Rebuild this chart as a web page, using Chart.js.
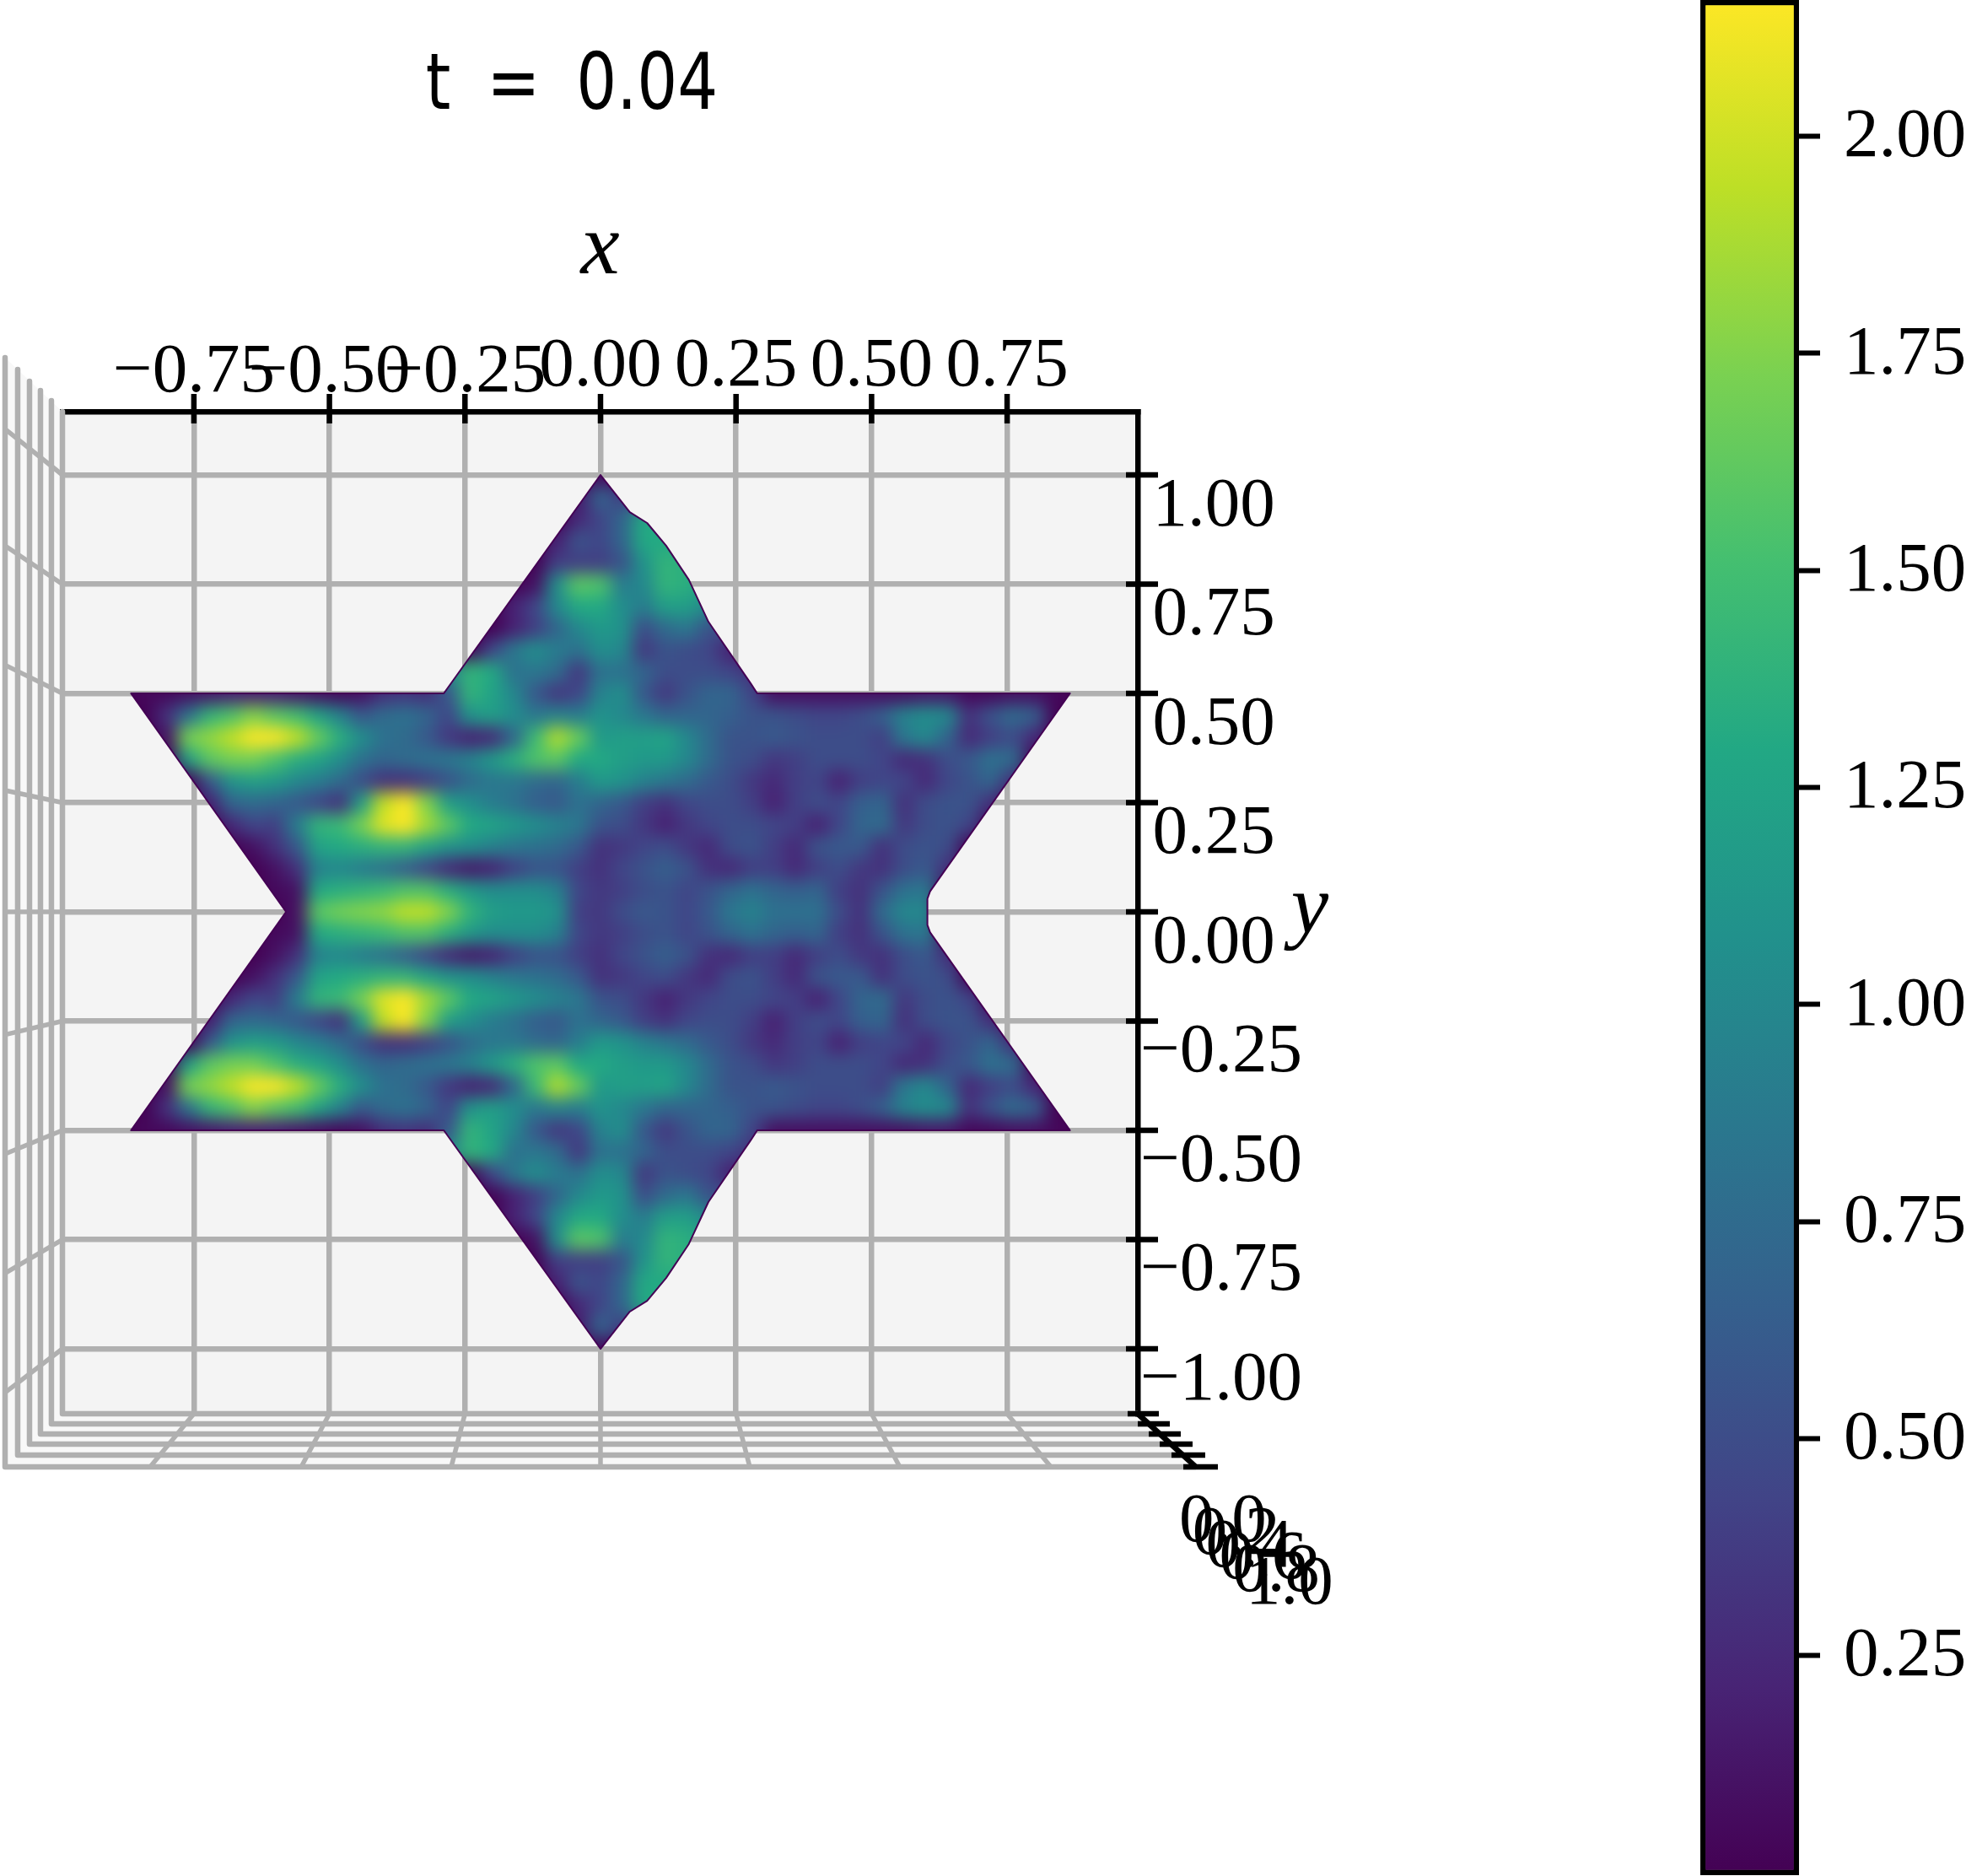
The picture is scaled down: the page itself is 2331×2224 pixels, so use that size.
<!DOCTYPE html>
<html>
<head>
<meta charset="utf-8">
<title>t = 0.04</title>
<script src="https://cdn.jsdelivr.net/npm/chart.js@4"></script>
<style>
  html, body { margin: 0; padding: 0; background: #fff; }
  body { width: 2331px; height: 2224px; position: relative; overflow: hidden; }
  canvas { position: absolute; top: 0; }
  #main { left: 0; }
  #cbar { left: 2016px; }
</style>
</head>
<body>
<canvas id="main" width="1990" height="2224"></canvas>
<canvas id="cbar" width="315" height="2224"></canvas>
<script>
const xTicks = [-0.75, -0.5, -0.25, 0, 0.25, 0.5, 0.75];
const yTicks = [-1, -0.75, -0.5, -0.25, 0, 0.25, 0.5, 0.75, 1];
const cbarTicks = [0.25, 0.5, 0.75, 1, 1.25, 1.5, 1.75, 2];
const zTickLabels = ['0.0', '0.2', '0.4', '0.6', '0.8', '1.0'];
const cbarRange = [-0.003, 2.157];

// star outline, upper half (lower half is its mirror)
const outlineX = [-0.58, -0.866, -0.289, 0, 0.054, 0.086, 0.121, 0.163, 0.199, 0.277, 0.289, 0.866, 0.608, 0.603, 0.603];
const outlineY = [0, 0.5, 0.5, 1, 0.915, 0.89, 0.838, 0.76, 0.664, 0.523, 0.5, 0.5, 0.047, 0.03, 0];

// surface height, read by eye. Rows go up from y = 0, columns step 0.04 in x from heatStartX
const heatY = [0, 0.05, 0.1, 0.15, 0.2, 0.25, 0.3, 0.35, 0.4, 0.45, 0.5, 0.55, 0.6, 0.65, 0.7, 0.75, 0.8, 0.85, 0.9, 0.95, 1];
const heatStartX = [-0.56, -0.6, -0.64, -0.64, -0.68, -0.72, -0.72, -0.76, -0.8, -0.8, -0.84, -0.28, -0.2, -0.16, -0.16, -0.12, -0.08, -0.08, -0.04, -0.04, -0.04];
const row000 = [.1,1.6,1.7,1.75,1.8,1.95,1.95,1.75,1.4,1.2,1.15,1.15,1.1,.4,.35,.5,.6,.55,.45,.6,.85,.95,.8,.8,.8,.5,.3,.75,1,1];
const row005 = [.05,.1,1.3,1.35,1.4,1.45,1.55,1.55,1.35,1.15,1.05,1.05,1.05,.95,.45,.35,.4,.5,.55,.45,.55,.7,.8,.7,.65,.7,.4,.3,.55,.8,.85];
const row010 = [0,.1,.3,.95,1,.9,.8,.65,.45,.25,.15,.2,.4,.55,.55,.4,.3,.45,.55,.65,.55,.3,.25,.4,.4,.25,.4,.5,.35,.3,.5,.6,.3];
const row015 = [.1,.3,.6,1.25,1.3,1.35,1.4,1.4,1.25,1.1,1.05,.95,.85,.8,.75,.6,.3,.35,.45,.5,.35,.25,.5,.55,.4,.25,.55,.6,.6,.3,.5,.55,.5];
const row020 = [.25,.45,.4,.9,1.4,1.45,1.7,2.05,2.15,1.85,1.6,1.3,1.25,1.15,1.05,.95,.85,.55,.5,.35,.2,.35,.45,.5,.5,.45,.4,.2,.45,.7,.75,.35,.5,.55,.45];
const row025 = [.2,.7,.75,.7,.6,.45,.3,1.2,1.95,2.15,1.75,1.2,1.05,.9,.8,.65,.6,.8,.7,.6,.4,.3,.45,.5,.5,.4,.2,.4,.5,.45,.65,.7,.3,.5,.55,.55,.3];
const row030 = [.6,1.1,1.2,1.15,1,.9,.75,.5,.3,.3,.4,.55,.75,.85,.85,.75,.7,.9,1.15,1.1,.95,.85,.75,.6,.5,.35,.25,.4,.45,.2,.4,.45,.45,.25,.45,.55,.7,.3];
const row035 = [1.2,1.6,1.7,1.7,1.55,1.35,1.25,1.05,.8,.7,.75,.8,.85,.95,1.15,1.35,1.55,1.6,1.3,1.3,1.2,1.15,1.15,1,.75,.55,.5,.35,.4,.5,.5,.5,.45,.25,.3,.5,.6,.8,.75];
const row040 = [.1,1.7,1.8,1.95,2.15,2.15,1.95,1.65,1.35,1.05,.8,.75,.6,.35,.2,.25,.7,1.45,1.9,1.65,1.15,1.2,1.2,1.25,1,.75,.55,.55,.6,.55,.5,.5,.5,.4,.85,1,.7,.25,.4,.5,.25];
const row045 = [.3,.8,1.4,1.55,1.75,1.6,1.5,1.25,.95,.6,.75,.8,.7,.45,1.1,1.2,1.05,.85,.95,.9,1.1,1,.85,.7,.7,.7,.65,.55,.55,.5,.45,.45,.5,.65,.95,1.05,1,.3,.55,.75,.65];
const row050 = [.05,.05,.1,.15,.2,.2,.2,.15,.1,.05,.1,.3,.35,.3,.6,1.4,1.25,1,.6,.35,.45,.95,1.05,.6,.35,.55,.7,.7,.45,.1,.1,.1,.1,.1,.1,.1,.15,.15,.05,.05,.1,.1,.05];
const row055 = [1,1.4,1.3,.8,.85,.75,.35,.8,.8,.7,.5,.5,.5,.45,.3];
const row060 = [.45,.85,1.05,.9,.8,1.05,1,.35,.55,.5,.45,.2];
const row065 = [.2,.4,.7,1,1.15,1.1,.5,.75,.85,.55,.5];
const row070 = [.2,.45,1,1.3,1.3,1.05,.9,1.2,1.2,1];
const row075 = [.1,1.05,1.6,1.55,.9,1,1.4,1.35,1.2];
const row080 = [.4,.4,.4,.55,1.1,1.4,1.35,1.2];
const row085 = [.2,.55,.45,.7,1.3,1.3,1.2];
const row090 = [.25,.45,.7,1.3,1.3,1.1];
const row095 = [.15,.7,.4,.4];
const row100 = [.05,.05,.05];
const heatRows = [row000, row005, row010, row015, row020, row025, row030, row035, row040, row045, row050, row055, row060, row065, row070, row075, row080, row085, row090, row095, row100];

// 3d box: the back pane is the chart area, walls and floor step outwards from it
const wallLeft = [-0.9925, -1.0128, -1.033, -1.0532, -1.075, -1.0983];
const wallTop = [1.1448, 1.1699, 1.193, 1.2143, 1.2413, 1.2683];
const floorY = [-1.1486, -1.1718, -1.195, -1.2181, -1.2432, -1.2703];
const floorRight = [0.991, 1.0112, 1.033, 1.0516, 1.0734, 1.0983];
const wallTickEnd = [-1.1, -0.827, -0.554, -0.281, 0, 0.278, 0.565, 0.838, 1.105];
const floorTickEnd = [-0.8307, -0.552, -0.2753, 0, 0.2753, 0.552, 0.8307];
const zTickLeft = [0.9723, 0.991, 1.0112, 1.0314, 1.0532, 1.075];
const zTickRight = [1.0299, 1.0501, 1.0703, 1.0921, 1.1154, 1.1388];

const viridis = ['#440154', '#482475', '#414487', '#355f8d', '#2a788e', '#21918c', '#22a884', '#44bf70', '#7ad151', '#bddf26', '#fde725'];
const GRID = '#b0b0b0';
const TICK_FONT = { family: '"Liberation Serif"', size: 83 };

function hexToRgb(h) {
  return [1, 3, 5].map(i => parseInt(h.substr(i, 2), 16));
}

function viridisAt(v) {
  const t = Math.min(Math.max(v / cbarRange[1], 0), 1) * (viridis.length - 1);
  const i = Math.min(Math.floor(t), viridis.length - 2);
  const a = hexToRgb(viridis[i]);
  const b = hexToRgb(viridis[i + 1]);
  const c = a.map((n, k) => Math.round(n + (b[k] - n) * (t - i)));
  return `rgb(${c[0]},${c[1]},${c[2]})`;
}

function fmtTick(v) {
  return v.toFixed(2).replace('-', '\u2212');
}

// ---- datasets built from the lists above ----
const heatPoints = [];
heatRows.forEach((row, r) => {
  row.forEach((v, c) => {
    const x = heatStartX[r] + c * 0.04;
    heatPoints.push({ x, y: heatY[r], v });
    if (heatY[r] !== 0) heatPoints.push({ x, y: -heatY[r], v });
  });
});

const outline = outlineX.map((x, i) => ({ x, y: outlineY[i] }));
const lowerOutline = outlineX.map((x, i) => ({ x, y: -outlineY[i] })).reverse();
const starOutline = outline.concat(lowerOutline);

function lineSet(data, color, width, order) {
  return { data, showLine: true, borderColor: color, borderWidth: width, pointRadius: 0, clip: false, order, fill: false, borderJoinStyle: 'round', borderCapStyle: 'butt' };
}

const datasets = [];
datasets.push({
  data: heatPoints,
  pointStyle: 'rect',
  pointRadius: 19,
  pointBorderWidth: 0,
  pointBackgroundColor: heatPoints.map(p => viridisAt(p.v)),
  order: 5,
  isHeat: true
});
datasets.push(lineSet(starOutline, '#440154', 2, 4));

// walls and floor
wallLeft.forEach((x, i) => {
  datasets.push(lineSet([{ x, y: wallTop[i] }, { x, y: floorY[i] }, { x: floorRight[i], y: floorY[i] }], GRID, 6.5, 6));
});
yTicks.forEach((y, i) => {
  datasets.push(lineSet([{ x: wallLeft[0], y }, { x: wallLeft[5], y: wallTickEnd[i] }], GRID, 5.5, 6));
});
xTicks.forEach((x, i) => {
  datasets.push(lineSet([{ x, y: floorY[0] }, { x: floorTickEnd[i], y: floorY[5] }], GRID, 5.5, 6));
});

// black z axis and tick marks (points outside the chart area are not drawn, so these are short lines)
datasets.push(lineSet([{ x: floorRight[0], y: floorY[0] }, { x: floorRight[5], y: floorY[5] }], '#000', 6.5, 1));
floorY.forEach((y, i) => {
  datasets.push(lineSet([{ x: zTickLeft[i], y }, { x: zTickRight[i], y }], '#000', 6.5, 1));
});
datasets.push({
  data: xTicks.map(x => ({ x, y: 1.1516 })),
  pointStyle: 'line', pointRotation: 90, pointRadius: 17.5, pointBorderWidth: 6.5, pointBorderColor: '#000', clip: false, order: 1
});
datasets.push({
  data: yTicks.map(y => ({ x: 0.9988, y })),
  pointStyle: 'line', pointRadius: 19, pointBorderWidth: 6.5, pointBorderColor: '#000', clip: false, order: 1
});

// ---- plugins ----
let heatSnapshot = null;

function tracePath(ctx, chart, pts) {
  const { x, y } = chart.scales;
  ctx.beginPath();
  pts.forEach((p, i) => {
    const px = x.getPixelForValue(p.x);
    const py = y.getPixelForValue(p.y);
    if (i === 0) ctx.moveTo(px, py); else ctx.lineTo(px, py);
  });
  ctx.closePath();
}

const panePlugin = {
  id: 'panes',
  beforeDraw(chart) {
    const { ctx, chartArea: a } = chart;
    ctx.save();
    const box = [
      { x: wallLeft[0], y: wallTop[0] }, { x: wallLeft[5], y: wallTop[5] },
      { x: wallLeft[5], y: floorY[5] }, { x: floorRight[5], y: floorY[5] }, { x: floorRight[0], y: floorY[0] }
    ];
    ctx.fillStyle = '#f8f8f8';
    tracePath(ctx, chart, box);
    ctx.fill();
    ctx.fillStyle = '#f4f4f4';
    ctx.fillRect(a.left, a.top, a.right - a.left, a.bottom - a.top);
    ctx.restore();
    // matplotlib puts the positive x tick labels slightly higher, negative y ones further right
    chart.scales.x.getLabelItems().forEach(item => {
      if (!item.shifted && !item.label.startsWith('\u2212')) {
        item.shifted = true;
        item.options.translation[1] -= 7;
      }
    });
    chart.scales.y.getLabelItems().forEach(item => {
      if (!item.shifted && item.label.startsWith('\u2212')) {
        item.shifted = true;
        item.options.translation[0] += 9;
      }
    });
  }
};

// draw the heat cells on their own, soften them, keep only what is inside the star
const heatPlugin = {
  id: 'heatBlur',
  beforeDatasetDraw(chart, args) {
    if (!chart.data.datasets[args.index].isHeat) return;
    const { ctx, canvas, chartArea: a } = chart;
    heatSnapshot = document.createElement('canvas');
    heatSnapshot.width = canvas.width;
    heatSnapshot.height = canvas.height;
    heatSnapshot.getContext('2d').drawImage(canvas, 0, 0);
    ctx.save();
    ctx.fillStyle = viridis[0];
    ctx.fillRect(a.left, a.top, a.right - a.left, a.bottom - a.top);
    ctx.restore();
  },
  afterDatasetDraw(chart, args) {
    if (!chart.data.datasets[args.index].isHeat) return;
    const { ctx, canvas } = chart;
    const soft = document.createElement('canvas');
    soft.width = canvas.width;
    soft.height = canvas.height;
    const softCtx = soft.getContext('2d');
    softCtx.filter = 'blur(10px)';
    softCtx.drawImage(canvas, 0, 0);
    ctx.save();
    ctx.clearRect(0, 0, canvas.width, canvas.height);
    ctx.drawImage(heatSnapshot, 0, 0);
    tracePath(ctx, chart, starOutline);
    ctx.clip();
    ctx.drawImage(soft, 0, 0);
    ctx.restore();
  }
};

const textPlugin = {
  id: 'freeText',
  afterDraw(chart) {
    const { ctx } = chart;
    ctx.save();
    ctx.fillStyle = '#000';
    ctx.textBaseline = 'alphabetic';
    ctx.textAlign = 'center';
    ctx.save();
    ctx.translate(678, 129);
    ctx.scale(0.82, 1);
    ctx.wordSpacing = '23px';
    ctx.font = '92px "DejaVu Sans"';
    ctx.fillText('t = 0.04', 0, 0);
    ctx.restore();
    ctx.font = 'italic 100px "Liberation Serif"';
    ctx.fillText('y', 1553, 1106);
    ctx.textAlign = 'left';
    ctx.font = '83px "Liberation Serif"';
    zTickLabels.forEach((t, i) => {
      ctx.fillText(t, 1398 + 15.8 * i, 1827 + 14.8 * i);
    });
    ctx.restore();
  }
};

new Chart(document.getElementById('main'), {
  type: 'scatter',
  data: { datasets },
  plugins: [panePlugin, heatPlugin, textPlugin],
  options: {
    responsive: false,
    animation: false,
    events: [],
    layout: { padding: { left: 74, right: 341, top: 0, bottom: 548 } },
    plugins: { legend: { display: false }, tooltip: { enabled: false } },
    scales: {
      x: {
        type: 'linear',
        position: 'top',
        bounds: 'data',
        // set here and not as min/max, or points past the edge get dropped
        afterDataLimits: s => { s.min = -0.9925; s.max = 0.991; },
        afterBuildTicks: s => { s.ticks = xTicks.map(value => ({ value })); },
        afterFit: s => { s.height = 488; s.paddingLeft = 0; s.paddingRight = 0; },
        title: { display: true, text: 'x', color: '#000', font: { family: '"Liberation Serif"', size: 104, style: 'italic' }, padding: { top: 234, bottom: 0 } },
        grid: { color: GRID, lineWidth: 6.5, drawTicks: false },
        border: { display: true, color: '#000', width: 6.5 },
        ticks: { color: '#000', font: TICK_FONT, padding: -4, autoSkip: false, maxRotation: 0, minRotation: 0, callback: fmtTick }
      },
      y: {
        type: 'linear',
        position: 'right',
        bounds: 'data',
        afterDataLimits: s => { s.min = -1.1486; s.max = 1.1448; },
        afterBuildTicks: s => { s.ticks = yTicks.map(value => ({ value })); },
        afterFit: s => { s.width = 300; s.paddingTop = 0; s.paddingBottom = 0; },
        grid: { color: GRID, lineWidth: 6.5, drawTicks: false },
        border: { display: true, color: '#000', width: 6.5 },
        ticks: { color: '#000', font: TICK_FONT, padding: -6, crossAlign: 'center', labelOffset: 38, autoSkip: false, callback: fmtTick }
      }
    }
  }
});

// colour bar: one floating bar painted with the colormap
new Chart(document.getElementById('cbar'), {
  type: 'bar',
  data: {
    labels: [''],
    datasets: [{
      data: [cbarRange],
      barPercentage: 1,
      categoryPercentage: 1,
      borderWidth: 6.5,
      borderColor: '#000',
      borderSkipped: false,
      backgroundColor(c) {
        const { ctx, chartArea, scales } = c.chart;
        if (!chartArea) return viridis[0];
        const g = ctx.createLinearGradient(0, scales.y.getPixelForValue(0), 0, scales.y.getPixelForValue(cbarRange[1]));
        viridis.forEach((col, i) => g.addColorStop(i / (viridis.length - 1), col));
        return g;
      }
    }]
  },
  options: {
    responsive: false,
    animation: false,
    events: [],
    layout: { padding: { bottom: 1 } },
    plugins: { legend: { display: false }, tooltip: { enabled: false } },
    scales: {
      x: { display: false },
      y: {
        position: 'right',
        min: cbarRange[0],
        max: cbarRange[1],
        afterBuildTicks: s => { s.ticks = cbarTicks.map(value => ({ value })); },
        afterFit: s => { s.width = 198; s.paddingTop = 0; s.paddingBottom = 0; },
        grid: { drawOnChartArea: false, drawTicks: true, tickLength: 25, tickWidth: 6, tickColor: '#000' },
        border: { display: false },
        ticks: { color: '#000', font: TICK_FONT, padding: 28, labelOffset: 2, autoSkip: false, callback: fmtTick }
      }
    }
  }
});
</script>
</body>
</html>
